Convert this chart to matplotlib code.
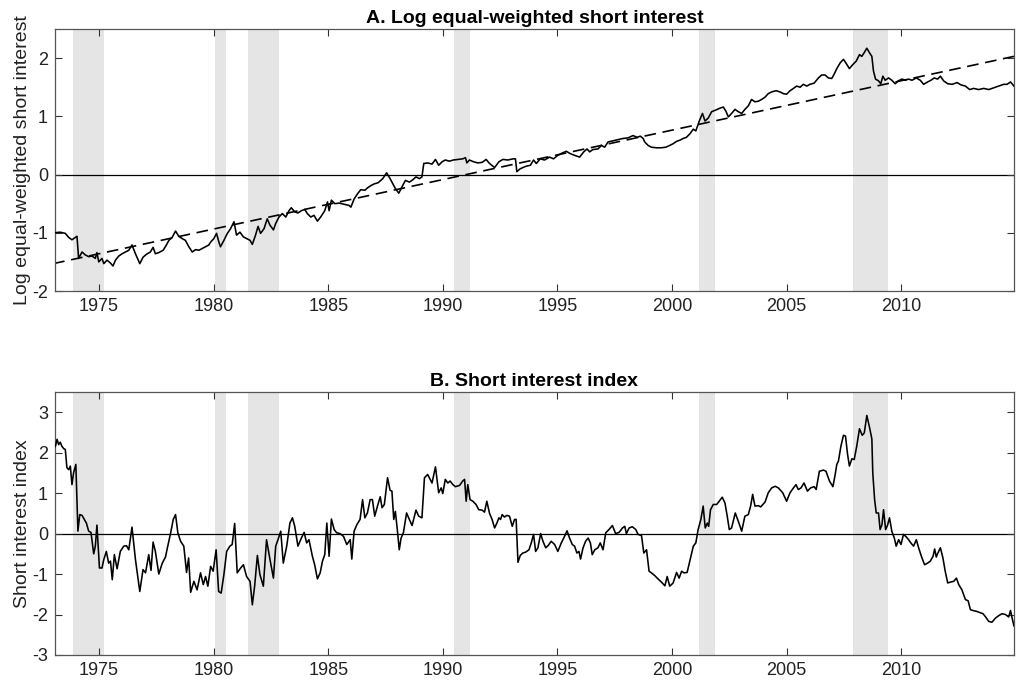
import matplotlib
matplotlib.use("Agg")
import matplotlib.pyplot as plt

plt.rcParams["font.family"] = ["Liberation Sans", "DejaVu Sans"]
plt.rcParams["axes.unicode_minus"] = False

# NBER recessions (start, end) in decimal years
recessions = [(1973.87, 1975.22), (1980.04, 1980.55), (1981.52, 1982.87),
              (1990.50, 1991.17), (2001.19, 2001.87), (2007.90, 2009.43)]

# Panel A: log equal-weighted short interest
years_a = [1973.02, 1973.31, 1973.53, 1973.68, 1973.82, 1973.97, 1974.04, 1974.11, 1974.26, 1974.40,
           1974.55, 1974.70, 1974.84, 1974.91, 1974.99, 1975.13, 1975.21, 1975.35, 1975.50, 1975.61,
           1975.72, 1975.86, 1976.01, 1976.15, 1976.30, 1976.44, 1976.59, 1976.78, 1976.92, 1977.07,
           1977.24, 1977.36, 1977.46, 1977.61, 1977.80, 1977.94, 1978.05, 1978.19, 1978.34, 1978.48,
           1978.63, 1978.77, 1978.92, 1979.07, 1979.21, 1979.36, 1979.50, 1979.65, 1979.79, 1979.87,
           1980.01, 1980.13, 1980.23, 1980.30, 1980.45, 1980.60, 1980.74, 1980.89, 1981.00, 1981.15,
           1981.30, 1981.44, 1981.59, 1981.69, 1981.83, 1981.94, 1982.05, 1982.20, 1982.34, 1982.46,
           1982.61, 1982.71, 1982.85, 1983.00, 1983.15, 1983.29, 1983.39, 1983.54, 1983.68, 1983.83,
           1983.98, 1984.09, 1984.24, 1984.38, 1984.53, 1984.67, 1984.85, 1984.97, 1985.04, 1985.14,
           1985.29, 1985.48, 1985.69, 1985.91, 1985.99, 1986.13, 1986.28, 1986.42, 1986.60, 1986.71,
           1986.86, 1987.01, 1987.18, 1987.38, 1987.55, 1987.70, 1987.81, 1987.93, 1988.08, 1988.22,
           1988.37, 1988.54, 1988.69, 1988.83, 1988.98, 1989.09, 1989.17, 1989.34, 1989.53, 1989.68,
           1989.82, 1989.97, 1990.11, 1990.29, 1990.46, 1990.65, 1990.87, 1990.99, 1991.05, 1991.16,
           1991.34, 1991.53, 1991.72, 1991.89, 1992.04, 1992.26, 1992.45, 1992.62, 1992.84, 1993.06,
           1993.17, 1993.23, 1993.38, 1993.61, 1993.82, 1993.96, 1994.08, 1994.25, 1994.44, 1994.66,
           1994.83, 1995.02, 1995.21, 1995.39, 1995.56, 1995.75, 1995.97, 1996.15, 1996.29, 1996.41,
           1996.55, 1996.77, 1996.92, 1997.06, 1997.21, 1997.43, 1997.65, 1997.86, 1998.08, 1998.30,
           1998.48, 1998.62, 1998.74, 1998.81, 1998.96, 1999.10, 1999.32, 1999.54, 1999.73, 1999.90,
           2000.05, 2000.20, 2000.34, 2000.49, 2000.63, 2000.78, 2000.93, 2001.04, 2001.19, 2001.33,
           2001.44, 2001.58, 2001.73, 2001.92, 2002.09, 2002.24, 2002.35, 2002.46, 2002.60, 2002.75,
           2002.89, 2003.04, 2003.18, 2003.33, 2003.47, 2003.62, 2003.77, 2003.91, 2004.06, 2004.20,
           2004.35, 2004.54, 2004.71, 2004.86, 2005.00, 2005.15, 2005.30, 2005.44, 2005.59, 2005.73,
           2005.88, 2006.02, 2006.20, 2006.39, 2006.53, 2006.68, 2006.82, 2006.97, 2007.07, 2007.19,
           2007.34, 2007.48, 2007.63, 2007.74, 2007.89, 2008.04, 2008.18, 2008.28, 2008.38, 2008.50,
           2008.62, 2008.72, 2008.79, 2008.88, 2009.01, 2009.11, 2009.20, 2009.30, 2009.45, 2009.59,
           2009.74, 2009.88, 2010.03, 2010.18, 2010.32, 2010.47, 2010.66, 2010.83, 2010.98, 2011.15,
           2011.30, 2011.44, 2011.59, 2011.71, 2011.85, 2012.03, 2012.22, 2012.44, 2012.61, 2012.80,
           2012.99, 2013.16, 2013.38, 2013.60, 2013.82, 2014.04, 2014.26, 2014.47, 2014.62, 2014.77,
           2014.92]
log_si = [-1.00, -0.99, -1.01, -1.08, -1.12, -1.08, -1.06, -1.44, -1.33, -1.38,
          -1.41, -1.40, -1.44, -1.34, -1.50, -1.44, -1.53, -1.47, -1.52, -1.57,
          -1.47, -1.40, -1.36, -1.33, -1.30, -1.21, -1.36, -1.53, -1.42, -1.37,
          -1.33, -1.25, -1.36, -1.34, -1.30, -1.21, -1.13, -1.08, -0.97, -1.06,
          -1.10, -1.13, -1.24, -1.33, -1.29, -1.30, -1.27, -1.24, -1.21, -1.16,
          -1.10, -1.01, -1.16, -1.24, -1.13, -1.01, -0.93, -0.81, -1.04, -0.99,
          -1.07, -1.10, -1.13, -1.20, -1.04, -0.89, -1.01, -0.93, -0.76, -0.87,
          -0.95, -0.84, -0.73, -0.67, -0.73, -0.62, -0.57, -0.64, -0.66, -0.62,
          -0.60, -0.67, -0.73, -0.70, -0.80, -0.73, -0.62, -0.47, -0.62, -0.44,
          -0.50, -0.49, -0.51, -0.53, -0.56, -0.42, -0.33, -0.26, -0.27, -0.23,
          -0.19, -0.16, -0.14, -0.07, 0.03, -0.07, -0.15, -0.24, -0.32, -0.21,
          -0.10, -0.13, -0.09, -0.04, -0.07, -0.04, 0.19, 0.20, 0.18, 0.26,
          0.16, 0.22, 0.25, 0.23, 0.25, 0.26, 0.27, 0.29, 0.20, 0.25,
          0.22, 0.20, 0.21, 0.26, 0.19, 0.12, 0.22, 0.26, 0.25, 0.27,
          0.27, 0.05, 0.10, 0.14, 0.16, 0.25, 0.19, 0.27, 0.25, 0.30,
          0.27, 0.33, 0.37, 0.40, 0.36, 0.33, 0.30, 0.39, 0.44, 0.39,
          0.43, 0.44, 0.50, 0.47, 0.56, 0.58, 0.60, 0.62, 0.63, 0.67,
          0.64, 0.66, 0.62, 0.56, 0.50, 0.47, 0.46, 0.46, 0.47, 0.50,
          0.53, 0.57, 0.59, 0.62, 0.64, 0.70, 0.78, 0.75, 0.92, 1.05,
          0.92, 0.97, 1.08, 1.11, 1.14, 1.16, 1.09, 0.99, 1.05, 1.12,
          1.08, 1.05, 1.12, 1.18, 1.29, 1.25, 1.26, 1.29, 1.33, 1.39,
          1.42, 1.44, 1.42, 1.39, 1.38, 1.44, 1.48, 1.52, 1.50, 1.55,
          1.52, 1.55, 1.57, 1.66, 1.71, 1.71, 1.66, 1.65, 1.72, 1.82,
          1.92, 1.98, 1.89, 1.82, 1.89, 1.95, 2.06, 2.03, 2.09, 2.17,
          2.09, 2.03, 1.78, 1.64, 1.61, 1.56, 1.69, 1.62, 1.66, 1.62,
          1.56, 1.61, 1.64, 1.62, 1.64, 1.62, 1.66, 1.62, 1.55, 1.59,
          1.62, 1.66, 1.64, 1.69, 1.61, 1.56, 1.55, 1.58, 1.54, 1.52,
          1.46, 1.48, 1.46, 1.48, 1.46, 1.49, 1.52, 1.55, 1.55, 1.59,
          1.52]

# linear trend (dashed) endpoints
trend_years = [1973.0, 2014.92]
trend_vals = [-1.53, 2.03]

# Panel B: short interest index
years_b = [1973.02, 1973.10, 1973.17, 1973.24, 1973.31, 1973.38, 1973.46, 1973.53, 1973.60, 1973.68,
           1973.75, 1973.82, 1973.89, 1973.99, 1974.08, 1974.16, 1974.26, 1974.36, 1974.45, 1974.55,
           1974.65, 1974.77, 1974.84, 1974.91, 1975.02, 1975.13, 1975.21, 1975.32, 1975.42, 1975.50,
           1975.58, 1975.67, 1975.79, 1975.93, 1976.08, 1976.20, 1976.30, 1976.44, 1976.59, 1976.78,
           1976.92, 1977.03, 1977.17, 1977.27, 1977.36, 1977.46, 1977.61, 1977.76, 1977.90, 1978.00,
           1978.12, 1978.24, 1978.34, 1978.44, 1978.56, 1978.70, 1978.82, 1978.91, 1979.00, 1979.14,
           1979.28, 1979.43, 1979.55, 1979.65, 1979.75, 1979.87, 1979.98, 1980.11, 1980.22, 1980.33,
           1980.45, 1980.57, 1980.71, 1980.81, 1980.92, 1981.03, 1981.18, 1981.30, 1981.44, 1981.59,
           1981.69, 1981.79, 1981.91, 1982.02, 1982.17, 1982.31, 1982.46, 1982.61, 1982.71, 1982.81,
           1982.93, 1983.04, 1983.19, 1983.33, 1983.44, 1983.54, 1983.68, 1983.83, 1983.95, 1984.06,
           1984.16, 1984.31, 1984.41, 1984.53, 1984.65, 1984.75, 1984.85, 1984.94, 1985.04, 1985.14,
           1985.26, 1985.37, 1985.52, 1985.67, 1985.81, 1985.96, 1986.03, 1986.13, 1986.25, 1986.39,
           1986.50, 1986.60, 1986.71, 1986.83, 1986.93, 1987.03, 1987.15, 1987.27, 1987.35, 1987.45,
           1987.59, 1987.70, 1987.78, 1987.86, 1987.93, 1988.03, 1988.10, 1988.18, 1988.28, 1988.42,
           1988.54, 1988.66, 1988.83, 1988.95, 1989.09, 1989.20, 1989.34, 1989.53, 1989.68, 1989.82,
           1989.93, 1990.00, 1990.11, 1990.22, 1990.32, 1990.44, 1990.55, 1990.73, 1990.87, 1990.95,
           1991.02, 1991.09, 1991.19, 1991.31, 1991.45, 1991.57, 1991.72, 1991.82, 1991.92, 1992.04,
           1992.15, 1992.26, 1992.36, 1992.45, 1992.52, 1992.59, 1992.69, 1992.80, 1992.91, 1993.03,
           1993.13, 1993.20, 1993.28, 1993.38, 1993.49, 1993.61, 1993.76, 1993.86, 1993.96, 1994.05,
           1994.15, 1994.27, 1994.37, 1994.49, 1994.59, 1994.73, 1994.88, 1995.02, 1995.17, 1995.31,
           1995.42, 1995.53, 1995.65, 1995.75, 1995.85, 1995.94, 1996.01, 1996.12, 1996.23, 1996.34,
           1996.44, 1996.52, 1996.63, 1996.77, 1996.87, 1996.99, 1997.11, 1997.25, 1997.40, 1997.54,
           1997.69, 1997.84, 1997.94, 1998.01, 1998.13, 1998.27, 1998.42, 1998.52, 1998.67, 1998.77,
           1998.89, 1999.00, 1999.10, 1999.25, 1999.39, 1999.54, 1999.69, 1999.79, 1999.90, 2000.05,
           2000.20, 2000.31, 2000.42, 2000.52, 2000.66, 2000.81, 2000.93, 2001.04, 2001.14, 2001.26,
           2001.36, 2001.45, 2001.54, 2001.60, 2001.68, 2001.80, 2001.95, 2002.06, 2002.19, 2002.31,
           2002.41, 2002.50, 2002.60, 2002.76, 2002.89, 2003.04, 2003.18, 2003.33, 2003.43, 2003.52,
           2003.62, 2003.77, 2003.87, 2004.06, 2004.20, 2004.35, 2004.50, 2004.64, 2004.83, 2005.00,
           2005.15, 2005.30, 2005.41, 2005.51, 2005.63, 2005.76, 2005.91, 2006.05, 2006.20, 2006.29,
           2006.43, 2006.61, 2006.72, 2006.87, 2007.02, 2007.12, 2007.19, 2007.26, 2007.37, 2007.48,
           2007.57, 2007.66, 2007.74, 2007.85, 2007.95, 2008.06, 2008.18, 2008.30, 2008.39, 2008.50,
           2008.62, 2008.72, 2008.76, 2008.84, 2008.91, 2009.01, 2009.08, 2009.16, 2009.23, 2009.32,
           2009.40, 2009.49, 2009.59, 2009.70, 2009.78, 2009.89, 2009.99, 2010.10, 2010.22, 2010.32,
           2010.42, 2010.54, 2010.66, 2010.76, 2010.88, 2011.02, 2011.15, 2011.27, 2011.39, 2011.46,
           2011.53, 2011.60, 2011.71, 2011.82, 2011.92, 2012.03, 2012.14, 2012.29, 2012.41, 2012.51,
           2012.65, 2012.80, 2012.92, 2013.02, 2013.13, 2013.28, 2013.43, 2013.57, 2013.67, 2013.82,
           2013.96, 2014.11, 2014.25, 2014.40, 2014.55, 2014.69, 2014.77, 2014.84, 2014.92]
si_index = [2.12, 2.16, 2.33, 2.20, 2.26, 2.16, 2.10, 2.08, 1.63, 1.58,
            1.67, 1.21, 1.50, 1.71, 0.06, 0.47, 0.45, 0.35, 0.26, 0.06,
            0.03, -0.50, -0.31, 0.21, -0.85, -0.85, -0.64, -0.44, -0.73, -0.68,
            -1.14, -0.52, -0.87, -0.44, -0.31, -0.30, -0.40, 0.16, -0.64, -1.43,
            -0.89, -0.97, -0.52, -0.91, -0.21, -0.44, -1.00, -0.73, -0.58, -0.31,
            0.00, 0.35, 0.47, 0.02, -0.19, -0.31, -0.96, -0.60, -1.45, -1.18,
            -1.39, -0.97, -1.26, -1.06, -1.30, -0.81, -0.93, -0.40, -1.43, -1.47,
            -1.01, -0.44, -0.31, -0.27, 0.25, -0.97, -0.85, -0.77, -1.06, -1.18,
            -1.76, -1.30, -0.54, -1.01, -1.30, -0.15, -0.64, -1.10, -0.31, -0.15,
            0.06, -0.73, -0.31, 0.26, 0.39, 0.18, -0.31, -0.11, 0.03, -0.23,
            -0.15, -0.56, -0.77, -1.12, -0.97, -0.68, -0.52, 0.26, -0.56, 0.36,
            0.10, 0.02, 0.00, -0.07, -0.27, -0.15, -0.63, 0.06, 0.22, 0.35,
            0.84, 0.39, 0.51, 0.84, 0.84, 0.43, 0.68, 0.91, 0.64, 0.72,
            1.38, 1.07, 1.05, 0.35, 0.55, 0.02, -0.40, -0.11, 0.02, 0.51,
            0.35, 0.20, 0.58, 0.43, 0.39, 1.38, 1.46, 1.25, 1.65, 1.01,
            1.13, 0.99, 1.34, 1.25, 1.30, 1.21, 1.16, 1.19, 1.30, 1.34,
            0.80, 1.21, 0.84, 0.80, 0.72, 0.59, 0.58, 0.53, 0.80, 0.50,
            0.35, 0.14, 0.26, 0.39, 0.35, 0.47, 0.41, 0.45, 0.43, 0.18,
            0.35, 0.35, -0.71, -0.54, -0.48, -0.46, -0.40, -0.23, -0.02, -0.44,
            -0.35, 0.00, -0.19, -0.35, -0.30, -0.19, -0.27, -0.44, -0.23, -0.07,
            0.07, -0.11, -0.27, -0.31, -0.48, -0.44, -0.63, -0.35, -0.19, -0.11,
            -0.23, -0.52, -0.40, -0.35, -0.23, -0.40, 0.02, 0.10, 0.20, 0.00,
            0.03, 0.14, 0.18, 0.00, 0.14, 0.17, 0.10, -0.02, -0.05, -0.48,
            -0.40, -0.93, -0.97, -1.04, -1.12, -1.20, -1.29, -1.06, -1.30, -1.22,
            -0.96, -1.10, -0.93, -0.97, -0.96, -0.60, -0.31, -0.23, 0.10, 0.35,
            0.68, 0.14, 0.26, 0.18, 0.59, 0.72, 0.72, 0.80, 0.90, 0.76,
            0.43, 0.10, 0.14, 0.51, 0.31, 0.06, 0.43, 0.47, 0.68, 0.97,
            0.68, 0.69, 0.66, 0.78, 1.01, 1.13, 1.17, 1.13, 1.01, 0.80,
            1.01, 1.13, 1.21, 1.09, 1.13, 1.25, 1.05, 1.13, 1.16, 1.09,
            1.54, 1.57, 1.54, 1.30, 1.16, 1.46, 1.71, 1.79, 2.16, 2.43,
            2.41, 1.96, 1.67, 1.85, 1.83, 2.16, 2.59, 2.43, 2.49, 2.92,
            2.62, 2.34, 1.50, 0.84, 0.51, 0.51, 0.10, 0.22, 0.59, 0.10,
            0.20, 0.39, 0.06, -0.11, -0.31, -0.15, -0.27, -0.02, -0.08, -0.15,
            -0.23, -0.31, -0.15, -0.35, -0.56, -0.77, -0.73, -0.68, -0.56, -0.38,
            -0.58, -0.48, -0.35, -0.60, -0.93, -1.22, -1.20, -1.18, -1.10, -1.26,
            -1.39, -1.63, -1.66, -1.88, -1.90, -1.92, -1.95, -1.98, -2.05, -2.17,
            -2.19, -2.09, -2.03, -1.98, -2.00, -2.06, -1.90, -2.09, -2.28]

xticks = [1975, 1980, 1985, 1990, 1995, 2000, 2005, 2010]

fig = plt.figure(figsize=(10.24, 6.86), dpi=100)
ax_a = fig.add_axes([0.0537, 0.5758, 0.9365, 0.3819])
ax_b = fig.add_axes([0.0537, 0.0452, 0.9365, 0.3834])


def style_panel(ax, title, ylabel, ylim, yticks):
    for start, end in recessions:
        ax.axvspan(start, end, color="#e5e5e5", lw=0, zorder=0)
    ax.axhline(0, color="black", lw=0.9, zorder=1)
    ax.set_xlim(1973.08, 2014.92)
    ax.set_ylim(*ylim)
    ax.set_xticks(xticks)
    ax.set_yticks(yticks)
    ax.tick_params(direction="in", length=5, width=0.8, top=True, right=True,
                   labelsize=13, color="#333333", labelcolor="#222222", pad=5)
    for sp in ax.spines.values():
        sp.set_color("#555555")
        sp.set_linewidth(0.9)
    ax.set_title(title, fontsize=14, fontweight="bold", pad=4)
    ax.set_ylabel(ylabel, fontsize=14, labelpad=1, color="#222222")


style_panel(ax_a, "A. Log equal-weighted short interest", "Log equal-weighted short interest",
            (-2, 2.5), [-2, -1, 0, 1, 2])
ax_a.plot(trend_years, trend_vals, color="black", lw=1.2, dashes=(7, 4), zorder=2)
ax_a.plot(years_a, log_si, color="black", lw=1.15, zorder=3)

style_panel(ax_b, "B. Short interest index", "Short interest index",
            (-3, 3.5), [-3, -2, -1, 0, 1, 2, 3])
ax_b.plot(years_b, si_index, color="black", lw=1.15, zorder=3)

fig.savefig("out.png", dpi=100)
